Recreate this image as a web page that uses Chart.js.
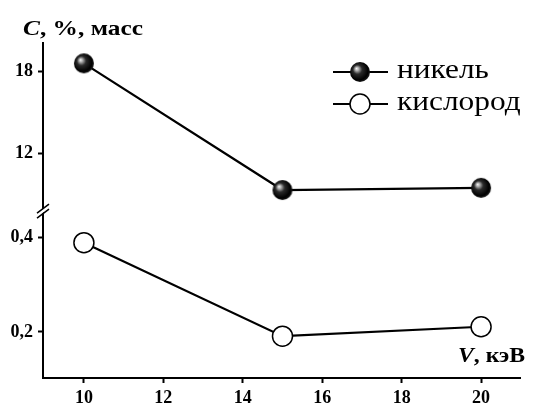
<!DOCTYPE html>
<html>
<head>
<meta charset="utf-8">
<script src="https://cdn.jsdelivr.net/npm/chart.js@4.4.1/dist/chart.umd.min.js"></script>
<style>
  html, body { margin: 0; padding: 0; background: #fff; }
  #wrap { width: 533px; height: 405px; }
</style>
</head>
<body>
<div id="wrap"><canvas id="c" width="533" height="405"></canvas></div>
<script>
// Accelerating voltage, keV
const voltages = [10, 15, 20];
// Element content, mass %
const nickel = [18.56, 9.33, 9.49];
const oxygen = [0.389, 0.191, 0.211];
// Tick labels
const xTicks = [10, 12, 14, 16, 18, 20];
const nickelTicks = [12, 18];
const oxygenTicks = [0.2, 0.4];
const seriesNames = ['никель', 'кислород'];

const SERIF = '"Liberation Serif", "Times New Roman", serif';

// Shaded black sphere used as the nickel marker
function makeSphere(r) {
  const size = r * 2 + 2;
  const cv = document.createElement('canvas');
  cv.width = size; cv.height = size;
  const g = cv.getContext('2d');
  const c = size / 2;
  const grad = g.createRadialGradient(c - 3.5, c - 3.5, 0, c - 1, c - 1, r + 1);
  grad.addColorStop(0, '#f6f6f6');
  grad.addColorStop(0.14, '#bcbcbc');
  grad.addColorStop(0.42, '#2a2a2a');
  grad.addColorStop(0.85, '#000');
  grad.addColorStop(1, '#1a1a1a');
  g.beginPath();
  g.arc(c, c, r, 0, Math.PI * 2);
  g.fillStyle = grad;
  g.fill();
  return cv;
}
const sphere = makeSphere(10);

function fixTicks(values) {
  return function (scale) {
    scale.ticks = values.map(v => ({ value: v }));
  };
}

// Draws a run of [text, font] pieces starting at x, squeezed/stretched to a given width
function drawRun(ctx, pieces, x, y, width) {
  let total = 0;
  pieces.forEach(([t, f]) => { ctx.font = f; total += ctx.measureText(t).width; });
  const k = width / total;
  ctx.save();
  ctx.translate(x, y);
  ctx.scale(k, 1);
  let cx = 0;
  pieces.forEach(([t, f]) => {
    ctx.font = f;
    ctx.fillText(t, cx, 0);
    cx += ctx.measureText(t).width;
  });
  ctx.restore();
}

const commonY = {
  type: 'linear',
  position: 'left',
  stack: 'left',
  grid: { display: true, drawOnChartArea: false, drawTicks: true, tickLength: 5, tickWidth: 2, color: '#000' },
  border: { display: true, width: 2, color: '#000' },
  afterFit: s => { s.width = 43; }
};

// Axis captions, legend and the axis break mark
const decorations = {
  id: 'decorations',
  afterDraw(chart) {
    const ctx = chart.ctx;
    ctx.save();
    ctx.fillStyle = '#000';
    ctx.textBaseline = 'alphabetic';
    ctx.textAlign = 'left';

    // y caption
    drawRun(ctx, [
      ['C', 'italic bold 21px ' + SERIF],
      [', %, масс', 'bold 21px ' + SERIF]
    ], 23, 35, 120);

    // x caption
    drawRun(ctx, [
      ['V', 'italic bold 20px ' + SERIF],
      [', кэВ', 'bold 20px ' + SERIF]
    ], 458, 362, 67);

    // legend
    const rows = [72, 104];
    ctx.textBaseline = 'middle';
    rows.forEach((y, i) => {
      ctx.beginPath();
      ctx.moveTo(333, y);
      ctx.lineTo(388, y);
      ctx.lineWidth = 2;
      ctx.strokeStyle = '#000';
      ctx.stroke();
      if (i === 0) {
        ctx.drawImage(sphere, 360 - sphere.width / 2, y - sphere.height / 2);
      } else {
        ctx.beginPath();
        ctx.arc(360, y, 10, 0, Math.PI * 2);
        ctx.fillStyle = '#fff';
        ctx.fill();
        ctx.lineWidth = 1.5;
        ctx.stroke();
        ctx.fillStyle = '#000';
      }
      ctx.font = '28px ' + SERIF;
      const w = ctx.measureText(seriesNames[i]).width;
      drawRun(ctx, [[seriesNames[i], '28px ' + SERIF]], 397, y - 1, w * 1.12);
    });

    // break mark on the y axis
    const yb = chart.scales.yN.bottom;
    const ax = chart.scales.yN.right;
    ctx.fillStyle = '#fff';
    ctx.beginPath();
    ctx.moveTo(ax - 6, yb + 5);
    ctx.lineTo(ax + 6, yb - 4);
    ctx.lineTo(ax + 6, yb - 8);
    ctx.lineTo(ax - 6, yb + 1);
    ctx.closePath();
    ctx.fill();
    ctx.strokeStyle = '#000';
    ctx.lineWidth = 1.5;
    ctx.beginPath();
    ctx.moveTo(ax - 6, yb + 6);
    ctx.lineTo(ax + 6, yb - 3);
    ctx.moveTo(ax - 6, yb + 1);
    ctx.lineTo(ax + 6, yb - 8);
    ctx.stroke();
    ctx.restore();
  }
};

new Chart(document.getElementById('c'), {
  type: 'line',
  data: {
    datasets: [
      {
        label: seriesNames[0],
        data: voltages.map((v, i) => ({ x: v, y: nickel[i] })),
        yAxisID: 'yN',
        borderColor: '#000',
        borderWidth: 2.2,
        pointStyle: sphere,
        pointRadius: 10,
        pointHoverRadius: 10
      },
      {
        label: seriesNames[1],
        data: voltages.map((v, i) => ({ x: v, y: oxygen[i] })),
        yAxisID: 'yO',
        borderColor: '#000',
        borderWidth: 2.2,
        pointBackgroundColor: '#fff',
        pointBorderColor: '#000',
        pointBorderWidth: 1.5,
        pointRadius: 10,
        pointHoverRadius: 10
      }
    ]
  },
  options: {
    responsive: false,
    animation: false,
    events: [],
    layout: { padding: { top: 43, right: 10, left: 0, bottom: 0 } },
    plugins: { legend: { display: false }, tooltip: { enabled: false } },
    scales: {
      x: {
        type: 'linear',
        min: 8.97,
        max: 21,
        afterBuildTicks: fixTicks(xTicks),
        grid: { display: true, drawOnChartArea: false, drawTicks: true, tickLength: 5, tickWidth: 2, color: '#000' },
        border: { display: true, width: 2, color: '#000' },
        ticks: { color: '#000', padding: 5, font: { family: SERIF, size: 18, weight: 'bold' } },
        afterFit: s => { s.height = 27; }
      },
      yO: Object.assign({}, commonY, {
        min: 0.1025,
        max: 0.4536,
        stackWeight: 165.7,
        afterBuildTicks: fixTicks(oxygenTicks),
        ticks: {
          color: '#000', padding: 5,
          font: { family: SERIF, size: 18, weight: 'bold' },
          callback: v => String(v).replace('.', ',')
        }
      }),
      yN: Object.assign({}, commonY, {
        min: 7.72,
        max: 20.04,
        stackWeight: 169,
        afterBuildTicks: fixTicks(nickelTicks),
        ticks: {
          color: '#000', padding: 5,
          font: { family: SERIF, size: 18, weight: 'bold' }
        }
      })
    }
  },
  plugins: [decorations]
});
</script>
</body>
</html>
